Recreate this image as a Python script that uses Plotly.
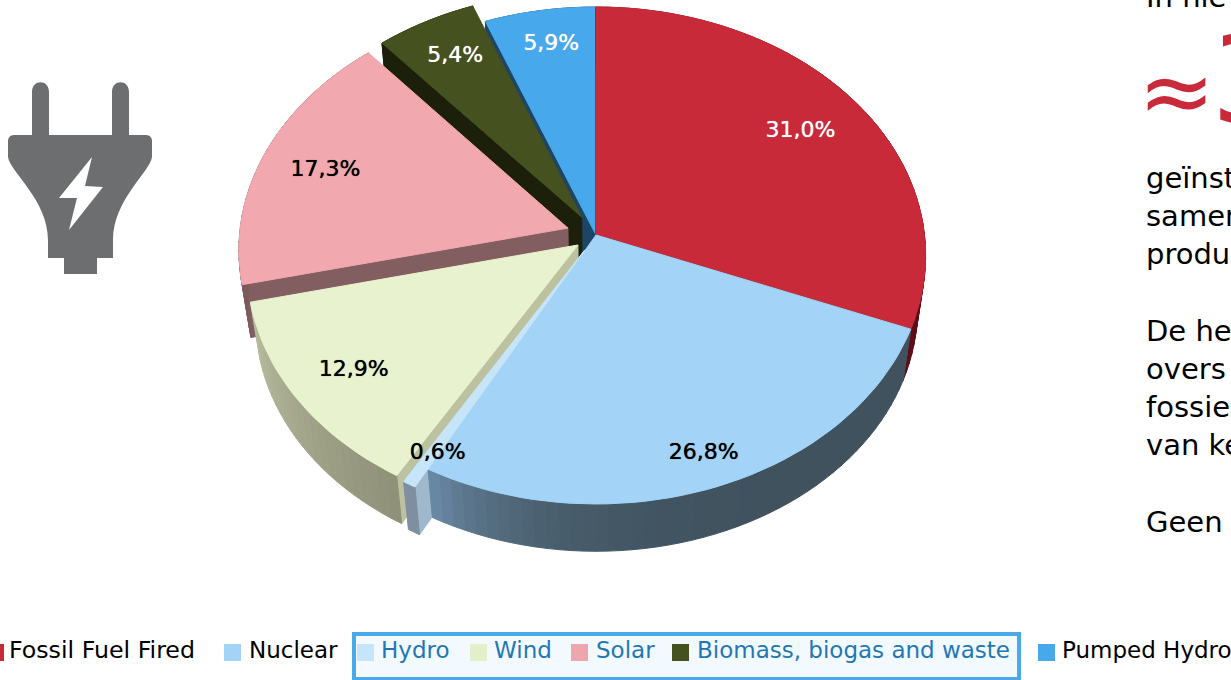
import math
import plotly.graph_objects as go

# --- data ---
CATEGORIES = ["Fossil Fuel Fired", "Nuclear", "Hydro", "Wind", "Solar", "Biomass, biogas and waste", "Pumped Hydro"]
VALUES = [31.0, 26.8, 0.6, 12.9, 17.3, 5.4, 5.9]
LABELS = ["31,0%", "26,8%", "0,6%", "12,9%", "17,3%", "5,4%", "5,9%"]
SIDE_TEXT = ["geïnst", "samen", "produ", "De he", "overs", "fossie", "van ke", "Geen"]

# --- style ---
TOP = ["#c82a39", "#a3d3f6", "#c6e5f9", "#e8f2cf", "#f1a8af", "#45511e", "#47a9ec"]
WALL_A = ["#7a1420", "#40525e", "#7e8fa0", "#8e9078", "#7c5a5b", "#1c1f0a", "#1d4566"]
WALL_B = ["#5e0c16", "#6a8ba6", "#7e8fa0", "#b8bc9e", "#7c5a5b", "#1c1f0a", "#1d4566"]
WALL_POWER = [1, 6, 1, 1, 1, 1, 1]
CUT = ["#7a1420", "#3f525f", "#a0b8cc", "#bcc2a0", "#825e60", "#1c1f0a", "#1d4566"]
EXPLODE = [0, 0, 0.07, 0.068, 0.09, 0.085, 0]
LABEL_R = [0.775, 0.885, 0.88, 0.815, 0.796, 0.80, 0.84]
LABEL_NUDGE = [(1, 0), (1, -2), (6, -1), (2, 1), (0, 2), (0, -2), (3, 0)]
LABEL_COLOR = ["white", "black", "black", "black", "black", "white", "white"]
LABEL_SHADOW = ["0 0 0.7px " + c for c in LABEL_COLOR]
LABEL_SIZE = 22
FONT = "DejaVu Sans"

CX, CY, RX, RY, K, SHRINK, DEPTH = 596, 235, 328.5, 246.8, 0.0825, 0.975, 54


def proj(x, y, bottom=False):
    w = 1 - K * y
    px, py = RX * x / w, RY * y / w
    if bottom:
        px, py = px * SHRINK, py * SHRINK + DEPTH
    return CX + px, CY + py


def mix(a, b, t):
    ca = [int(a[i:i + 2], 16) for i in (1, 3, 5)]
    cb = [int(b[i:i + 2], 16) for i in (1, 3, 5)]
    return "#%02x%02x%02x" % tuple(round(p + (q - p) * t) for p, q in zip(ca, cb))


fig = go.Figure()


def poly(points, color):
    fig.add_trace(go.Scatter(
        x=[p[0] for p in points] + [points[0][0]],
        y=[p[1] for p in points] + [points[0][1]],
        mode="lines", fill="toself", fillcolor=color,
        line=dict(color=color, width=1), hoverinfo="skip", showlegend=False))


total = sum(VALUES)
starts, acc = [], 0.0
for v in VALUES:
    starts.append(acc)
    acc += v


def geometry(i):
    a0 = starts[i] / total * 2 * math.pi
    a1 = (starts[i] + VALUES[i]) / total * 2 * math.pi
    mid = (a0 + a1) / 2
    ox, oy = EXPLODE[i] * math.sin(mid), -EXPLODE[i] * math.cos(mid)
    n = max(2, int((a1 - a0) / math.radians(2)))
    rim = [(ox + math.sin(a0 + (a1 - a0) * j / n), oy - math.cos(a0 + (a1 - a0) * j / n)) for j in range(n + 1)]
    return mid, ox, oy, n, rim


def draw_sides(i):
    mid, ox, oy, n, rim = geometry(i)
    # the face on the clockwise-start side is the one turned to the viewer
    poly([proj(ox, oy), proj(*rim[0]), proj(*rim[0], bottom=True), proj(ox, oy, bottom=True)], CUT[i])
    for j in range(n):
        t = ((j + 0.5) / n) ** WALL_POWER[i]
        poly([proj(*rim[j]), proj(*rim[j + 1]), proj(*rim[j + 1], bottom=True), proj(*rim[j], bottom=True)],
             mix(WALL_A[i], WALL_B[i], t))


def draw_top(i):
    mid, ox, oy, n, rim = geometry(i)
    poly([proj(ox, oy)] + [proj(*p) for p in rim], TOP[i])


# painter's order, back to front; the front slices' sides sit under Nuclear's top
for i in (6, 0, 5, 4):
    draw_sides(i)
    draw_top(i)
draw_sides(3)
draw_sides(2)
draw_sides(1)
draw_top(1)
draw_top(2)
draw_top(3)

for i in range(len(VALUES)):
    mid, ox, oy, n, rim = geometry(i)
    lx, ly = proj(ox + LABEL_R[i] * math.sin(mid), oy - LABEL_R[i] * math.cos(mid))
    fig.add_trace(go.Scatter(
        x=[lx + LABEL_NUDGE[i][0]], y=[ly + LABEL_NUDGE[i][1]], mode="text", text=[LABELS[i]],
        textfont=dict(family=FONT, size=LABEL_SIZE, color=LABEL_COLOR[i], shadow=LABEL_SHADOW[i]),
        hoverinfo="skip", showlegend=False))

shapes = []
annotations = []


def text(x, y, s, size=21, color="black", yshift=0):
    annotations.append(dict(x=x, y=y, text=s, showarrow=False, xref="x", yref="y",
                            xanchor="left", yanchor="middle", yshift=yshift,
                            font=dict(family=FONT, size=size, color=color)))


# legend highlight box
shapes.append(dict(type="rect", x0=354, x1=1019, y0=634, y1=679, xref="x", yref="y",
                   fillcolor="#f3faff", line=dict(color="#4aa9e9", width=4), layer="below"))
LEG_SWATCH_X = [-13, 224, 357, 470, 571, 672, 1038]
LEG_TEXT_X = [7, 247, 379, 492, 594, 695, 1060]
LEG_SIZE = [23.7, 23, 23, 23, 23, 23, 23]
LEG_COLOR = ["#c82a39", "#a3d3f6", "#c6e5f9", "#e3efc9", "#eea5ac", "#45511e", "#47a9ec"]
for i, name in enumerate(CATEGORIES):
    shapes.append(dict(type="rect", x0=LEG_SWATCH_X[i], x1=LEG_SWATCH_X[i] + 17, y0=644, y1=661,
                       xref="x", yref="y", fillcolor=LEG_COLOR[i], line=dict(width=0)))
    text(LEG_TEXT_X[i], 650, name, size=LEG_SIZE[i], color="#1f78b4" if 2 <= i <= 5 else "black")

# side copy, cut off by the page edge
SIDE_Y = [178, 216, 254, 331, 369, 407, 445, 522]
for s, y in zip(SIDE_TEXT, SIDE_Y):
    text(1144, y, s, size=29)
text(1144, 0, "In hie", size=29, yshift=3)
text(1136, 91, "≈", size=92, color="#c82a39")
text(1209, 80, "3", size=122, color="#c82a39")

# plug icon
GREY = "#6d6e70"
shapes.append(dict(type="path", xref="x", yref="y", fillcolor=GREY, line=dict(width=0), path=(
    "M32,135 L32,92 C32,79 49,79 49,92 L49,135 L112,135 L112,92 C112,79 129,79 129,92 L129,135 "
    "L146,135 C150,135 152,138 152,141 L152,157 C150,172 113,200 113,240 L113,258 L97,258 L97,274 "
    "L64,274 L64,258 L48,258 L48,240 C48,200 10,172 8,157 L8,141 C8,138 10,135 14,135 Z")))
shapes.append(dict(type="path", xref="x", yref="y", fillcolor="white", line=dict(width=0), path=(
    "M92,157 L85,186 L103,187 L69,230 L77,198 L59,198 Z")))

fig.update_layout(
    width=1231, height=680, margin=dict(l=0, r=0, t=0, b=0),
    paper_bgcolor="white", plot_bgcolor="white", showlegend=False,
    xaxis=dict(range=[0, 1231], visible=False, fixedrange=True),
    yaxis=dict(range=[680, 0], visible=False, fixedrange=True),
    shapes=shapes, annotations=annotations)

fig.write_html("out.html", config=dict(displayModeBar=False),
               post_script="document.body.style.margin='0';document.documentElement.style.overflow='hidden';")
